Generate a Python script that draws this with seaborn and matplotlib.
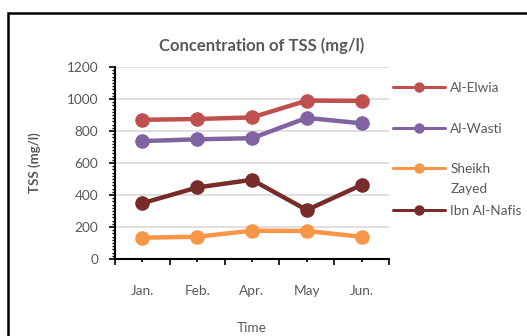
import matplotlib
matplotlib.use("Agg")
import matplotlib.pyplot as plt
import seaborn as sns
import pandas as pd
import numpy as np
from matplotlib.patches import Rectangle
from matplotlib.lines import Line2D
from matplotlib.ticker import MultipleLocator, FixedLocator

months = ["Jan.", "Feb.", "Apr.", "May", "Jun."]
al_elwia = [870, 875, 885, 990, 988]
al_wasti = [737, 748, 755, 882, 848]
sheikh_zayed = [133, 139, 177, 175, 139]
ibn_al_nafis = [349, 447, 495, 306, 463]
series_names = ["Al-Elwia", "Al-Wasti", "Sheikh Zayed", "Ibn Al-Nafis"]
colors = ["#C0504D", "#8064A2", "#F79646", "#772C2A"]

sns.set_theme(style="white")
plt.rcParams["font.family"] = ["Lato", "DejaVu Sans"]

rows = []
for name, vals in zip(series_names, [al_elwia, al_wasti, sheikh_zayed, ibn_al_nafis]):
    for i, (m, v) in enumerate(zip(months, vals)):
        rows.append({"Month": m, "idx": i, "Site": name, "TSS": v})
df = pd.DataFrame(rows)

fig = plt.figure(figsize=(5.27, 3.36), dpi=100)
ax = fig.add_axes([115/527, 1-259/336, (389-115)/527, (259-67)/336])

sns.lineplot(data=df, x="idx", y="TSS", hue="Site", palette=colors,
             hue_order=series_names, marker="o", markersize=10.5,
             markeredgewidth=0, linewidth=3.2, ax=ax, legend=False)

ax.set_xlim(-0.5, len(months) - 0.5)
ax.set_ylim(0, 1200)
ax.yaxis.set_major_locator(MultipleLocator(200))
ax.yaxis.set_minor_locator(MultipleLocator(20))
ax.xaxis.set_major_locator(FixedLocator(np.arange(-0.5, len(months), 1.0)))
ax.set_xticklabels([])
ax.set_xticks(np.arange(len(months)), minor=True)
ax.set_xticklabels(months, minor=True)

grey = "#595959"
fs = 9.8
ax.tick_params(axis="y", which="major", direction="out", length=4, width=1.2,
               color="black", labelsize=fs, labelcolor=grey, left=True, pad=8)
ax.tick_params(axis="y", which="minor", direction="out", length=2.5, width=1,
               color="black", left=True)
ax.tick_params(axis="x", which="major", direction="out", length=4, width=1.2,
               color="black", bottom=True, labelbottom=False)
ax.tick_params(axis="x", which="minor", direction="out", length=2, width=1.2,
               color="black", bottom=True, labelsize=fs, labelcolor=grey, pad=17)

ax.grid(axis="y", which="major", color="#D9D9D9", linewidth=1.2)
ax.grid(axis="x", visible=False)
ax.set_axisbelow(True)
for s in ["top", "right"]:
    ax.spines[s].set_visible(False)
for s in ["left", "bottom"]:
    ax.spines[s].set_color("black")
    ax.spines[s].set_linewidth(1.5)

ax.set_xlabel("Time", fontsize=fs, color=grey)
ax.xaxis.set_label_coords(0.5, -0.33)
ax.set_ylabel("TSS (mg/l)", fontsize=9.5, color=grey, fontweight="bold")
ax.yaxis.set_label_coords(-0.27, 0.5)

fig.text(262/527, 1-46/336, "Concentration of TSS (mg/l)", ha="center", va="center",
         fontsize=12, fontweight="bold", color=grey)

# legend rows (Sheikh Zayed wraps onto two lines, handle on the first)
handles = [Line2D([0], [0], color=c, linewidth=2.2, marker="o", markersize=7.5,
                  markeredgewidth=0) for c in colors]
blank = Line2D([0], [0], color="none", linewidth=0)
legend_rows = [(handles[0], "Al-Elwia", 88), (handles[1], "Al-Wasti", 129),
               (handles[2], "Sheikh", 169), (blank, "Zayed", 189),
               (handles[3], "Ibn Al-Nafis", 211)]
for h, lab, ypix in legend_rows:
    fig.legend([h], [lab], loc="center left",
               bbox_to_anchor=(393/527, 1-ypix/336), frameon=False,
               fontsize=fs, labelcolor=grey, handlelength=3.8,
               handletextpad=0.4, borderpad=0, borderaxespad=0)

fig.patches.append(Rectangle((8/527, -0.1), 1.2, 1-13/336 + 0.1,
                             transform=fig.transFigure, fill=False,
                             edgecolor="black", linewidth=1.8))

fig.savefig("out.png", dpi=100)
